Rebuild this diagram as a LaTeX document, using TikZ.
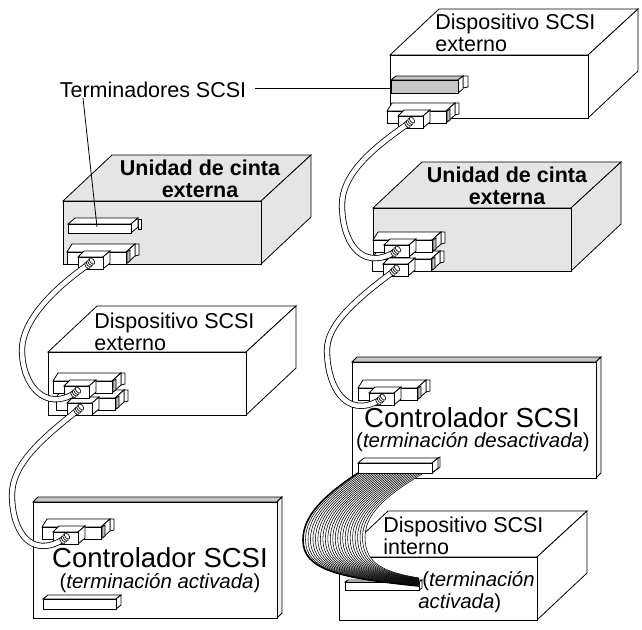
\documentclass[tikz,border=0pt]{standalone}
\usepackage{fontspec}
\setmainfont{Liberation Sans}
\usetikzlibrary{calc}

\begin{document}
\begin{tikzpicture}[x=1pt, y=-1pt, line width=0.8pt]
	\tikzset{cable/.style = {draw, double = white, double distance = 4.6pt, line width = 0.8pt}}
	\tikzset{plain text/.style = {inner sep = 0, align = left, anchor = west, font = \fontsize{21.5}{22.5}\selectfont}}
	\tikzset{bold text/.style = {inner sep = 0, align = center, font = \fontsize{21.5}{22.5}\selectfont\bfseries}}
	\tikzset{big text/.style = {inner sep = 0, font = \fontsize{27.5}{29}\selectfont}}
	\tikzset{slant text/.style = {inner sep = 0, font = \fontsize{20.4}{22}\selectfont\itshape}}
	\tikzset{pics/unit/.style = {code = {
		\draw[fill = #1] (0,0) -- (49,-46) -- (248,-46) -- (198,0) -- cycle;
		\draw[fill = #1] (198,0) -- (248,-46) -- (248,16) -- (198,63) -- cycle;
		\draw[fill = #1] (0,0) rectangle (198,63);
	}}}
	\tikzset{pics/card/.style = {code = {
		\draw[fill = gray!45] (0,0) -- (5,-5) -- (249,-5) -- (244,0) -- cycle;
		\draw[fill = gray!10] (244,0) -- (249,-5) -- (249,111) -- (244,116) -- cycle;
		\draw[fill = white] (0,0) rectangle (244,116);
	}}}
	\tikzset{pics/conn/.style = {code = {
		\draw[fill = white] (46,-20) -- (50,-20) -- (50,-9) -- (46,-8) -- cycle;
		\draw[fill = white] (-22,-12) -- (-17,-20) -- (46,-20) -- (37,-12) -- cycle;
		\draw[fill = white] (37,-12) -- (46,-20) -- (46,-8) -- (37,0) -- cycle;
		\draw[fill = gray!50] (38,-12) -- (41,-14) -- (41,-3) -- (38,-1) -- cycle;
		\draw[fill = white] (-22,-12) rectangle (37,0);
		\draw[fill = white] (-11,-7) -- (-5,-13) -- (21,-13) -- (14,-7) -- cycle;
		\draw[fill = white] (14,-7) -- (21,-13) -- (21,-1) -- (14,5) -- cycle;
		\draw[fill = white] (-11,-7) rectangle (14,5);
	}}}
	\tikzset{pics/ferrule/.style = {code = {
		\foreach \s in {-1.5,0,1.5,3}
			\draw[fill = white, line width = 0.6pt] (\s,-\s) ellipse[x radius = 2, y radius = 3.6, rotate = 40];
	}}}
	\tikzset{pics/flatbar/.style n args = {4}{code = {
		\draw[fill = #4] (0,-#2) -- (#3,-#2-#3+1) -- (#1+#3,-#2-#3+1) -- (#1,-#2) -- cycle;
		\draw[fill = white] (#1,-#2) -- (#1+#3,-#2-#3+1) -- (#1+#3,-#3+1) -- (#1,0) -- cycle;
		\draw[fill = #4] (0,-#2) rectangle (#1,0);
	}}}

	\useasboundingbox (0,0) rectangle (642,629);

%% Cabinets
\pic at (390,55) {unit = white};
\pic at (373,208) {unit = gray!20};
\pic at (63,201) {unit = gray!20};
\pic at (48,352) {unit = white};
\pic at (339,557) {unit = white};

%% Cards
\pic at (33,502) {card};
\pic at (352,362) {card};

%% Where the cables plug in
\coordinate (tapeLeftPlug) at (89,264);
\coordinate (devLeftUp) at (75,393);
\coordinate (devLeftLow) at (78,410);
\coordinate (ctrlLeftPlug) at (64,539);
\coordinate (devTopPlug) at (409,123);
\coordinate (tapeRightUp) at (395,252);
\coordinate (tapeRightLow) at (394,271);
\coordinate (ctrlRightPlug) at (380,400);

%% Connectors
\foreach \p in {tapeLeftPlug, devLeftLow, devLeftUp, ctrlLeftPlug, devTopPlug, tapeRightLow, tapeRightUp, ctrlRightPlug}
	\pic at (\p) {conn};

%% Terminators
\draw[fill = white] (138,219) rectangle (141,229);
\pic at (68,233) {flatbar = {63}{9}{7}{white}};
\draw[fill = white] (463,76) -- (468,76) -- (468,87) -- (463,88) -- cycle;
\pic (devTopBar) at (391,93) {flatbar = {67}{13}{5}{gray!45}};
\pic at (43,609) {flatbar = {73}{10}{5}{white}};
\pic at (345,590) {flatbar = {74}{8}{3}{white}};

%% Cables
\draw[cable] (tapeLeftPlug) .. controls (45,295) and (22,325) .. (22,350) .. controls (22,385) and (45,412) .. (devLeftUp);
\draw[cable] (devLeftLow) .. controls (40,440) and (12,465) .. (12,495) .. controls (12,530) and (30,560) .. (ctrlLeftPlug);
\draw[cable] (devTopPlug) .. controls (370,150) and (342,175) .. (342,205) .. controls (342,240) and (360,272) .. (tapeRightUp);
\draw[cable] (tapeRightLow) .. controls (355,300) and (327,325) .. (327,350) .. controls (327,385) and (345,420) .. (ctrlRightPlug);
\foreach \p in {tapeLeftPlug, devLeftLow, devLeftUp, ctrlLeftPlug, devTopPlug, tapeRightLow, tapeRightUp, ctrlRightPlug}
	\pic at (\p) {ferrule};

%% Ribbon
\coordinate (outerA) at (358,473); \coordinate (outerB) at (325,495); \coordinate (outerC) at (303,515);
\coordinate (outerD) at (303,540); \coordinate (outerE) at (303,570); \coordinate (outerF) at (340,578);
\coordinate (outerG) at (419,586);
\coordinate (innerA) at (427,471); \coordinate (innerB) at (395,490); \coordinate (innerC) at (365,510);
\coordinate (innerD) at (365,537); \coordinate (innerE) at (365,565); \coordinate (innerF) at (385,572);
\coordinate (innerG) at (419,578);
\fill[white] (outerA) .. controls (outerB) and (outerC) .. (outerD) .. controls (outerE) and (outerF) .. (outerG) -- (innerG) .. controls (innerF) and (innerE) .. (innerD) .. controls (innerC) and (innerB) .. (innerA) -- cycle;
\foreach \t in {0,0.04,...,1.01}
	\draw[line width = 0.55pt] ($(outerA)!\t!(innerA)$) .. controls ($(outerB)!\t!(innerB)$) and ($(outerC)!\t!(innerC)$) .. ($(outerD)!\t!(innerD)$) .. controls ($(outerE)!\t!(innerE)$) and ($(outerF)!\t!(innerF)$) .. ($(outerG)!\t!(innerG)$);
\draw[line width = 1.6pt] (outerA) .. controls (outerB) and (outerC) .. (outerD) .. controls (outerE) and (outerF) .. (outerG);
\draw[fill = white] (432,462) -- (440,457) -- (440,467) -- (432,473) -- cycle;
\pic at (358,473) {flatbar = {74}{10}{6}{white}};

%% Labels
\draw (153,90) node[name = termLabel, inner sep = 0, font = \fontsize{21.5}{22.5}\selectfont]{Terminadores SCSI};
\draw (termLabel.east) ++(8,-2) coordinate (termLine) -- (391,88);
\draw (83,98) coordinate (termDown) -- (97,227);

\draw (200,179) node[name = tapeLeftLabel, bold text]{Unidad de cinta\\externa};
\draw (507,186) node[name = tapeRightLabel, bold text]{Unidad de cinta\\externa};
\draw (94,332) node[name = devLeftLabel, plain text]{Dispositivo SCSI\\externo};
\draw (435,33) node[name = devTopLabel, plain text]{Dispositivo SCSI\\externo};
\draw (383,536) node[name = devInLabel, plain text]{Dispositivo SCSI\\interno};
\draw (160,558) node[name = ctrlLeftLabel, big text]{Controlador SCSI};
\draw (160,583) node[name = ctrlLeftNote, slant text]{\textup{(}terminación activada\textup{)}};
\draw (472,418) node[name = ctrlRightLabel, big text]{Controlador SCSI};
\draw (473,442) node[name = ctrlRightNote, slant text]{\textup{(}terminación desactivada\textup{)}};
\draw (418,592) node[name = devInNote, inner sep = 0, align = left, anchor = west, font = \fontsize{20.4}{22}\selectfont]{\hspace{4pt}(\textit{terminación}\\\textit{activada})};

\end{tikzpicture}
\end{document}
